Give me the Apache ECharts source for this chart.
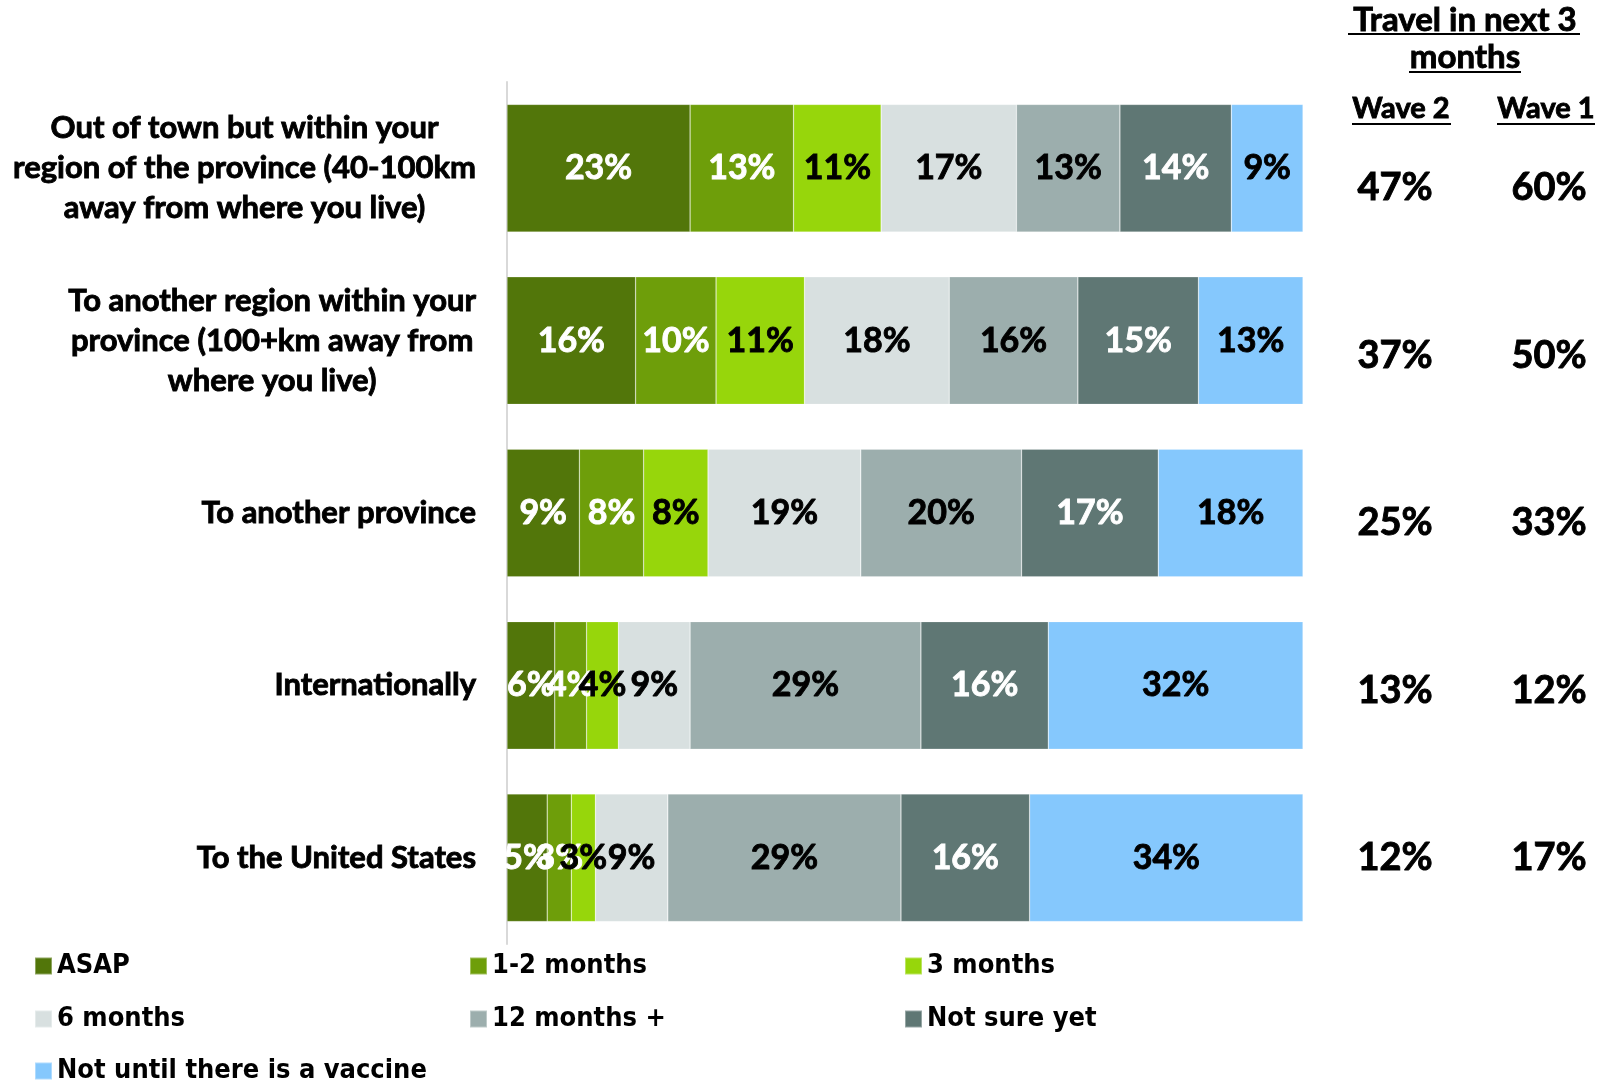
<!DOCTYPE html>
<html>
<head>
<meta charset="utf-8">
<script src="https://cdn.jsdelivr.net/npm/echarts@6/dist/echarts.min.js"></script>
<style>
html,body{margin:0;padding:0;background:#fff;}
#chart{width:1598px;height:1082px;}
</style>
</head>
<body>
<div id="chart"></div>
<script>
// ---- data ----
var categories = [
  'Out of town but within your\nregion of the province (40-100km\naway from where you live)',
  'To another region within your\nprovince (100+km away from\nwhere you live)',
  'To another province',
  'Internationally',
  'To the United States'
];
var seriesNames = ['ASAP', '1-2 months', '3 months', '6 months', '12 months +', 'Not sure yet', 'Not until there is a vaccine'];
var asap      = [23, 16, 9, 6, 5];
var months1to2 = [13, 10, 8, 4, 3];
var months3   = [11, 11, 8, 4, 3];
var months6   = [17, 18, 19, 9, 9];
var months12  = [13, 16, 20, 29, 29];
var notSure   = [14, 15, 17, 16, 16];
var vaccine   = [9, 13, 18, 32, 34];
var waveNames = ['Wave 2', 'Wave 1'];
var wave2 = [47, 37, 25, 13, 12];
var wave1 = [60, 50, 33, 12, 17];

// ---- styles ----
var colors = ['#52760A', '#6E9E0A', '#97D60B', '#D8E0E0', '#9CAEAD', '#5F7774', '#85C8FD'];
var labelColors = ['#fff', '#fff', '#000', '#000', '#000', '#fff', '#000'];
var FONT = 'Lato, "Noto Sans", sans-serif';
var W = 'bold';
var HEAVY = 0.9; // extra stroke to mimic a heavy typeface

var seriesValues = [asap, months1to2, months3, months6, months12, notSure, vaccine];
var rowSums = categories.map(function (c, i) {
  return seriesValues.reduce(function (s, arr) { return s + arr[i]; }, 0);
});

var series = seriesValues.map(function (vals, si) {
  return {
    name: seriesNames[si],
    type: 'bar',
    stack: 'total',
    xAxisIndex: 0, yAxisIndex: 0,
    barCategoryGap: '26%',
    itemStyle: { color: colors[si], borderColor: 'rgba(255,255,255,0.35)', borderWidth: 0.6 },
    label: {
      show: true,
      position: 'inside',
      color: labelColors[si],
      textBorderColor: labelColors[si],
      textBorderWidth: HEAVY,
      fontFamily: FONT,
      fontWeight: W,
      fontSize: 34,
      formatter: function (p) { return p.data.raw + '%'; }
    },
    data: vals.map(function (v, i) { return { value: v / rowSums[i] * 100, raw: v }; })
  };
});

[wave2, wave1].forEach(function (vals, wi) {
  series.push({
    name: waveNames[wi],
    type: 'scatter',
    xAxisIndex: 1, yAxisIndex: 1,
    symbolSize: 1,
    itemStyle: { color: 'rgba(0,0,0,0)', opacity: 1 },
    label: {
      show: true, position: 'inside', color: '#000',
      textBorderColor: '#000', textBorderWidth: HEAVY,
      fontFamily: FONT, fontWeight: W, fontSize: 38,
      formatter: function (p) { return p.data[2] + '%'; }
    },
    data: vals.map(function (v, i) { return [waveNames[wi], i, v]; })
  });
});

function legendFor(names, top) {
  return {
    data: names,
    left: 29, top: top,
    orient: 'horizontal',
    icon: 'rect',
    itemWidth: 17, itemHeight: 17,
    itemGap: 22,
    selectedMode: false,
    textStyle: {
      width: 390,
      fontFamily: '"DejaVu Sans Condensed", "Liberation Sans Narrow", Lato, sans-serif',
      fontWeight: 'bold', fontSize: 27, color: '#000', lineHeight: 32
    }
  };
}

function headText(t, x, y, size) {
  return { type: 'text', style: { text: t, x: x, y: y, align: 'center', verticalAlign: 'middle',
    font: W + ' ' + size + 'px ' + FONT, fill: '#000', stroke: '#000', lineWidth: HEAVY } };
}

var option = {
  animation: false,
  backgroundColor: '#fff',
  grid: [
    { left: 507, right: 295, top: 82, height: 862 },
    { left: 1395, width: 154, top: 104, height: 838 }
  ],
  xAxis: [
    { type: 'value', gridIndex: 0, min: 0, max: 100, show: false },
    { type: 'category', gridIndex: 1, data: waveNames, boundaryGap: false, show: false }
  ],
  yAxis: [
    {
      type: 'category', gridIndex: 0, inverse: true, data: categories,
      axisLine: { show: true, lineStyle: { color: '#D9D9D9', width: 2 } },
      axisTick: { show: false },
      axisLabel: {
        margin: 31,
        align: 'right',
        formatter: function (v) {
          return v.split('\n').map(function (l) { return '{c|' + l + '}'; }).join('\n');
        },
        rich: {
          c: { align: 'center', fontFamily: FONT, fontWeight: W, fontSize: 31, lineHeight: 40, color: '#000',
               textBorderColor: '#000', textBorderWidth: HEAVY }
        }
      }
    },
    { type: 'category', gridIndex: 1, inverse: true, data: categories, show: false }
  ],
  legend: [
    legendFor(seriesNames.slice(0, 3), 945),
    legendFor(seriesNames.slice(3, 6), 998),
    legendFor(seriesNames.slice(6), 1050)
  ],
  graphic: [
    headText('Travel in next 3', 1465, 20, 33),
    headText('months', 1465, 57, 33),
    headText('Wave 2', 1401, 109, 29),
    headText('Wave 1', 1546, 109, 29),
    { type: 'line', shape: { x1: 1348, y1: 34, x2: 1580, y2: 34 }, style: { stroke: '#000', lineWidth: 2 } },
    { type: 'line', shape: { x1: 1409, y1: 72, x2: 1521, y2: 72 }, style: { stroke: '#000', lineWidth: 2 } },
    { type: 'line', shape: { x1: 1352, y1: 124, x2: 1451, y2: 124 }, style: { stroke: '#000', lineWidth: 2 } },
    { type: 'line', shape: { x1: 1497, y1: 124, x2: 1595, y2: 124 }, style: { stroke: '#000', lineWidth: 2 } }
  ],
  series: series
};

var chart = echarts.init(document.getElementById('chart'), null, { renderer: 'canvas' });
chart.setOption(option);
</script>
</body>
</html>
